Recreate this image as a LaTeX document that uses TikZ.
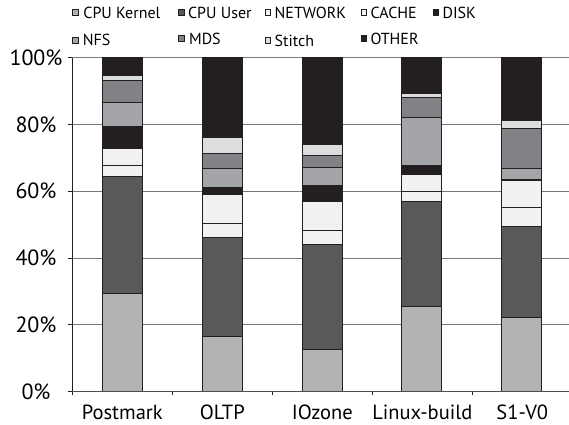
\documentclass[tikz,border=0pt]{standalone}
\usepackage{fontspec}
\setmainfont{PT Sans}
\usepackage{xcolor}
\usetikzlibrary{positioning}
\definecolor{ckernel}{RGB}{178,179,181}
\definecolor{cuser}{RGB}{88,89,91}
\definecolor{cnet}{RGB}{241,241,242}
\definecolor{ccache}{RGB}{241,241,242}
\definecolor{cdisk}{RGB}{35,31,32}
\definecolor{cnfs}{RGB}{163,165,168}
\definecolor{cmds}{RGB}{128,130,133}
\definecolor{cstitch}{RGB}{220,221,223}
\definecolor{cother}{RGB}{35,31,32}
\definecolor{cline}{RGB}{35,31,32}
\definecolor{cgrid}{RGB}{120,120,120}

% one stacked bar: #1 = left edge, #2 = lo/hi/colour triples
\newcommand{\stackbar}[2]{%
  \foreach \lo/\hi/\fc in {#2} {\draw[seg, fill=\fc] (#1,\lo) rectangle (#1+40,\hi);}%
}

\begin{document}
\begin{tikzpicture}[
  x=1pt, y=1pt,
  seg/.style={draw=cline, line width=0.8pt},
  gridline/.style={draw=cgrid, line width=0.9pt},
  axisline/.style={draw=cline, line width=0.9pt},
  ylab/.style={font=\fontsize{22}{24}\selectfont, inner sep=0pt},
  xlab/.style={font=\fontsize{20.5}{24}\selectfont, inner sep=0pt, anchor=base},
  keybox/.style={draw=cline, line width=0.6pt, minimum size=5.8pt, inner sep=0pt},
  keytext/.style={font=\fontsize{16}{18}\selectfont, inner sep=0pt},
]
\useasboundingbox (0,0) rectangle (569,424);

\begin{scope}[shift={(72.3,32.3)}, y=3.342pt]
% grid
\foreach \p in {20,40,...,100} {\draw[gridline] (0,\p) -- (497,\p);}
% bars
\stackbar{30}{0/29.3/ckernel, 29.3/64.4/cuser, 64.4/67.7/cnet, 67.7/72.7/ccache, 72.7/79.4/cdisk, 79.4/86.7/cnfs, 86.7/93.2/cmds, 93.2/94.7/cstitch, 94.7/100/cother}
\stackbar{130}{0/16.6/ckernel, 16.6/46.3/cuser, 46.3/50.5/cnet, 50.5/58.9/ccache, 58.9/61/cdisk, 61/66.9/cnfs, 66.9/71.4/cmds, 71.4/76.1/cstitch, 76.1/100/cother}
\stackbar{230}{0/12.8/ckernel, 12.8/44.2/cuser, 44.2/48.2/cnet, 48.2/56.9/ccache, 56.9/61.8/cdisk, 61.8/67/cnfs, 67/70.7/cmds, 70.7/74/cstitch, 74/100/cother}
\stackbar{329.5}{0/25.6/ckernel, 25.6/56.8/cuser, 56.8/59.8/cnet, 59.8/65/ccache, 65/67.6/cdisk, 67.6/82.2/cnfs, 82.2/88.1/cmds, 88.1/89.4/cstitch, 89.4/100/cother}
\stackbar{429.5}{0/22.3/ckernel, 22.3/49.4/cuser, 49.4/55/cnet, 55/63.1/ccache, 63.1/63.4/cdisk, 63.4/66.9/cnfs, 66.9/78.7/cmds, 78.7/81.1/cstitch, 81.1/100/cother}
% axes
\draw[axisline] (0,-1.1) -- (0,100);
\draw[gridline, draw=cline!80] (0,0) -- (497,0);
\foreach \p in {0,20,...,100} {
  \draw[axisline] (-4.5,\p) -- (0,\p);
  \node[ylab] (y\p) at (-36.3,\p) {\p\%};
}
\foreach \c in {100,200,300,400} {\draw[axisline] (\c,0) -- (\c,-1.1);}
\node[xlab] (lpost) at (50,-8.2) {Postmark};
\node[xlab] (loltp) at (150,-8.2) {OLTP};
\node[xlab] (lioz) at (250,-8.2) {IOzone};
\node[xlab] (llinux) at (350,-8.2) {Linux-build};
\node[xlab] (ls1) at (450,-8.2) {S1-V0};
\end{scope}

% legend
\node[keybox, fill=ckernel] (kkernel) at (75.5,411.5) {};
\node[keytext, right=4.5pt of kkernel] (tkernel) {CPU Kernel};
\node[keybox, fill=cuser] (kuser) at (181.2,411.5) {};
\node[keytext, right=3.5pt of kuser] (tuser) {CPU User};
\node[keybox, fill=cnet] (knet) at (267.8,411.5) {};
\node[keytext, right=3.5pt of knet] (tnet) {NETWORK};
\node[keybox, fill=ccache] (kcache) at (363.7,411.5) {};
\node[keytext, right=3.5pt of kcache] (tcache) {CACHE};
\node[keybox, fill=cdisk] (kdisk) at (435.7,411.5) {};
\node[keytext, right=3.5pt of kdisk] (tdisk) {DISK};
\node[keybox, fill=cnfs] (knfs) at (75.5,384) {};
\node[keytext, right=4pt of knfs] (tnfs) {NFS};
\node[keybox, fill=cmds] (kmds) at (181.2,385.5) {};
\node[keytext, right=4.5pt of kmds] (tmds) {MDS};
\node[keybox, fill=cstitch] (kstitch) at (267.8,383.5) {};
\node[keytext, right=3.5pt of kstitch] (tstitch) {Stitch};
\node[keybox, fill=cother] (kother) at (363.7,385.5) {};
\node[keytext, right=3.5pt of kother] (tother) {OTHER};
\end{tikzpicture}
\end{document}
